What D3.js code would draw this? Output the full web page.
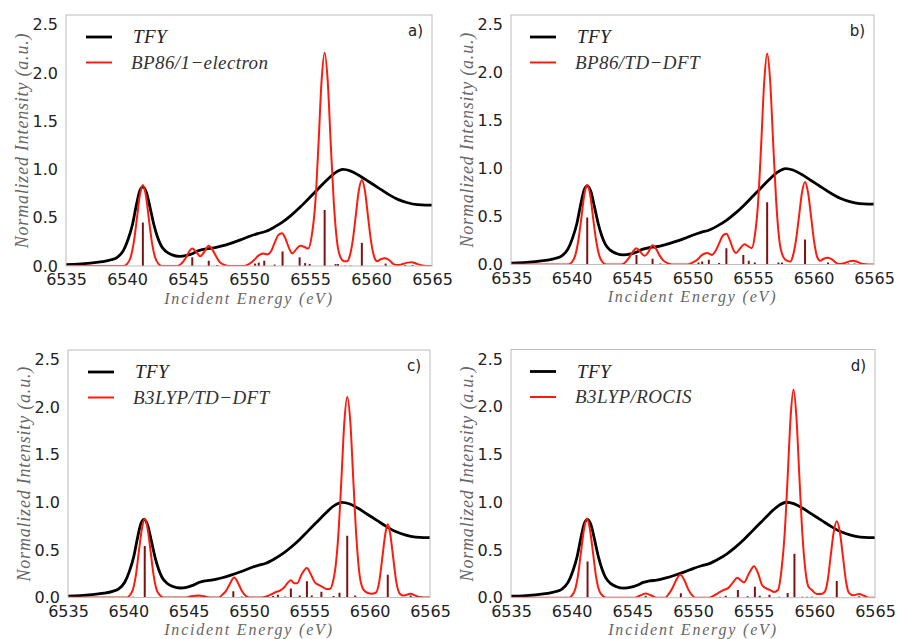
<!DOCTYPE html>
<html><head><meta charset="utf-8">
<script src="https://cdn.jsdelivr.net/npm/d3@7"></script>
<style>body{margin:0;background:#fff}</style>
</head><body><svg id="chart" width="897" height="639"></svg>
<script>
// ---------- data ----------
const energyTicks = [6535, 6540, 6545, 6550, 6555, 6560, 6565];
const intensityTicks = [0.0, 0.5, 1.0, 1.5, 2.0, 2.5];
const panelLabels = ["a)", "b)", "c)", "d)"];
const methodNames = ["BP86/1\u2212electron", "BP86/TD\u2212DFT", "B3LYP/TD\u2212DFT", "B3LYP/ROCIS"];

// experimental TFY (same in all panels) [energy, intensity]
const tfy = [[6535,0.015],[6536,0.02],[6537,0.03],[6538,0.045],[6538.7,0.065],[6539.2,0.09],[6539.7,0.16],[6540.1,0.28],[6540.45,0.43],[6540.75,0.62],[6541.05,0.78],[6541.3,0.82],[6541.6,0.76],[6541.9,0.6],[6542.2,0.43],[6542.5,0.3],[6542.8,0.21],[6543.2,0.15],[6543.7,0.115],[6544.3,0.10],[6544.9,0.11],[6545.4,0.13],[6545.9,0.16],[6546.4,0.175],[6547.0,0.185],[6547.7,0.205],[6548.5,0.235],[6549.3,0.27],[6550.0,0.305],[6550.7,0.335],[6551.4,0.36],[6552.1,0.405],[6552.8,0.46],[6553.5,0.53],[6554.2,0.61],[6554.9,0.7],[6555.6,0.79],[6556.3,0.88],[6557.0,0.96],[6557.7,1.0],[6558.3,0.985],[6559.0,0.94],[6559.8,0.875],[6560.6,0.81],[6561.4,0.745],[6562.2,0.69],[6563.0,0.655],[6563.8,0.635],[6564.5,0.63],[6565,0.63]];

// calculated broadened spectra [energy, intensity]
const calcA = [[6535,0],[6539.7,0],[6540.0,0.02],[6540.3,0.09],[6540.55,0.24],[6540.8,0.48],[6541.05,0.73],[6541.3,0.84],[6541.55,0.73],[6541.8,0.48],[6542.05,0.24],[6542.3,0.09],[6542.6,0.02],[6542.9,0],[6544.1,0],[6544.5,0.03],[6544.8,0.08],[6545.05,0.14],[6545.35,0.18],[6545.65,0.15],[6546.0,0.10],[6546.3,0.14],[6546.7,0.21],[6547.0,0.17],[6547.3,0.10],[6547.6,0.04],[6548.0,0.01],[6548.3,0],[6549.6,0],[6550.0,0.02],[6550.4,0.06],[6550.8,0.11],[6551.15,0.13],[6551.5,0.12],[6551.8,0.15],[6552.1,0.24],[6552.4,0.32],[6552.7,0.34],[6553.0,0.28],[6553.3,0.18],[6553.55,0.13],[6553.85,0.17],[6554.2,0.21],[6554.5,0.2],[6554.85,0.18],[6555.15,0.32],[6555.45,0.68],[6555.7,1.27],[6555.95,1.92],[6556.2,2.21],[6556.45,1.92],[6556.7,1.27],[6556.95,0.66],[6557.2,0.27],[6557.5,0.09],[6557.8,0.05],[6558.05,0.05],[6558.25,0.1],[6558.5,0.26],[6558.75,0.52],[6559.0,0.78],[6559.25,0.89],[6559.5,0.78],[6559.75,0.52],[6560.0,0.26],[6560.25,0.1],[6560.5,0.05],[6560.8,0.07],[6561.15,0.08],[6561.5,0.06],[6561.85,0.02],[6562.2,0.01],[6562.6,0.02],[6563.0,0.035],[6563.35,0.04],[6563.7,0.025],[6564.1,0.008],[6564.5,0],[6565,0]];
const calcB = [[6535,0],[6539.7,0],[6540.0,0.02],[6540.3,0.09],[6540.55,0.24],[6540.8,0.47],[6541.05,0.72],[6541.3,0.83],[6541.55,0.72],[6541.8,0.47],[6542.05,0.24],[6542.3,0.09],[6542.6,0.02],[6542.9,0],[6544.1,0],[6544.5,0.03],[6544.8,0.08],[6545.05,0.13],[6545.37,0.17],[6545.7,0.13],[6546.05,0.09],[6546.35,0.13],[6546.7,0.20],[6547.0,0.16],[6547.3,0.09],[6547.6,0.04],[6548.0,0.01],[6548.3,0],[6549.6,0],[6550.0,0.02],[6550.4,0.05],[6550.8,0.10],[6551.2,0.12],[6551.6,0.10],[6551.9,0.14],[6552.2,0.22],[6552.5,0.30],[6552.8,0.32],[6553.1,0.25],[6553.35,0.16],[6553.6,0.12],[6553.95,0.17],[6554.3,0.21],[6554.6,0.19],[6554.9,0.17],[6555.15,0.3],[6555.43,0.66],[6555.68,1.26],[6555.93,1.91],[6556.17,2.20],[6556.42,1.91],[6556.67,1.26],[6556.92,0.65],[6557.17,0.26],[6557.5,0.08],[6557.8,0.04],[6558.1,0.03],[6558.3,0.09],[6558.55,0.25],[6558.8,0.5],[6559.05,0.75],[6559.3,0.86],[6559.55,0.75],[6559.8,0.5],[6560.05,0.24],[6560.3,0.08],[6560.55,0.04],[6560.85,0.06],[6561.2,0.07],[6561.55,0.05],[6561.9,0.015],[6562.2,0.005],[6562.6,0.015],[6563.0,0.035],[6563.3,0.04],[6563.65,0.025],[6564.1,0.005],[6564.5,0],[6565,0]];
const calcC = [[6535,0],[6539.9,0],[6540.1,0.02],[6540.37,0.08],[6540.62,0.23],[6540.87,0.48],[6541.12,0.72],[6541.36,0.83],[6541.6,0.72],[6541.85,0.48],[6542.1,0.23],[6542.35,0.08],[6542.65,0.02],[6542.95,0],[6544.7,0],[6545.2,0.012],[6545.8,0.02],[6546.3,0.012],[6546.8,0],[6547.5,0],[6547.8,0.03],[6548.1,0.07],[6548.4,0.14],[6548.77,0.21],[6549.1,0.15],[6549.4,0.07],[6549.7,0.02],[6550.0,0],[6551.0,0],[6551.45,0.01],[6551.8,0.03],[6552.2,0.055],[6552.6,0.075],[6552.95,0.11],[6553.25,0.16],[6553.47,0.18],[6553.75,0.15],[6554.0,0.15],[6554.35,0.24],[6554.8,0.31],[6555.1,0.25],[6555.45,0.16],[6555.8,0.13],[6556.1,0.11],[6556.4,0.09],[6556.7,0.09],[6556.95,0.16],[6557.15,0.3],[6557.4,0.65],[6557.65,1.22],[6557.9,1.84],[6558.14,2.11],[6558.4,1.84],[6558.65,1.22],[6558.9,0.63],[6559.15,0.25],[6559.45,0.09],[6559.8,0.05],[6560.15,0.04],[6560.5,0.05],[6560.8,0.17],[6561.05,0.42],[6561.3,0.67],[6561.5,0.77],[6561.7,0.67],[6561.95,0.42],[6562.2,0.17],[6562.5,0.04],[6562.8,0.02],[6563.1,0.03],[6563.4,0.04],[6563.7,0.025],[6564.1,0.005],[6564.5,0],[6565,0]];
const calcD = [[6535,0],[6539.8,0],[6540.0,0.02],[6540.27,0.08],[6540.52,0.23],[6540.77,0.48],[6541.02,0.72],[6541.26,0.83],[6541.5,0.72],[6541.75,0.48],[6542.0,0.23],[6542.25,0.08],[6542.55,0.02],[6542.85,0],[6545.2,0],[6545.6,0.02],[6546.1,0.045],[6546.6,0.02],[6547.0,0],[6547.7,0],[6548.0,0.04],[6548.3,0.1],[6548.6,0.18],[6548.95,0.24],[6549.3,0.18],[6549.6,0.09],[6549.9,0.03],[6550.2,0],[6551.3,0],[6551.7,0.02],[6552.1,0.05],[6552.5,0.08],[6552.9,0.10],[6553.3,0.16],[6553.66,0.21],[6553.95,0.18],[6554.2,0.16],[6554.6,0.25],[6555.04,0.33],[6555.35,0.26],[6555.7,0.13],[6556.0,0.1],[6556.35,0.08],[6556.7,0.06],[6557.0,0.08],[6557.3,0.3],[6557.55,0.66],[6557.8,1.26],[6558.05,1.9],[6558.28,2.18],[6558.52,1.9],[6558.77,1.26],[6559.02,0.66],[6559.27,0.28],[6559.5,0.12],[6559.8,0.08],[6560.2,0.04],[6560.55,0.04],[6560.85,0.06],[6561.1,0.18],[6561.35,0.44],[6561.6,0.69],[6561.85,0.80],[6562.1,0.69],[6562.35,0.44],[6562.6,0.18],[6562.85,0.05],[6563.2,0.025],[6563.7,0.04],[6564.1,0.02],[6564.5,0],[6565,0]];

// transition sticks
const sticksAE = [6541.3,6545.35,6546.7,6547.4,6550.5,6550.8,6551.25,6552.1,6552.75,6554.15,6554.6,6554.97,6556.2,6557.1,6557.3,6557.9,6558.3,6559.25,6561.2,6562.8,6563.4];
const sticksAI = [0.45,0.09,0.055,0.01,0.025,0.035,0.055,0.015,0.15,0.09,0.03,0.02,0.58,0.02,0.02,0.005,0.005,0.24,0.025,0.01,0.01];
const sticksBE = [6541.3,6545.37,6546.7,6547.35,6550.5,6550.8,6551.35,6552.2,6552.8,6554.2,6554.65,6555.15,6556.17,6557.1,6557.4,6559.3,6561.2,6562.9,6563.4];
const sticksBI = [0.49,0.10,0.06,0.01,0.02,0.03,0.05,0.015,0.17,0.10,0.04,0.02,0.65,0.02,0.02,0.26,0.02,0.01,0.01];
const sticksCE = [6540.4,6541.36,6545.7,6548.7,6549.4,6552.0,6552.4,6553.0,6553.47,6554.2,6554.8,6555.2,6556.0,6557.0,6557.5,6558.14,6558.8,6561.5,6563.4];
const sticksCI = [0.008,0.54,0.01,0.066,0.01,0.015,0.03,0.01,0.095,0.02,0.17,0.02,0.06,0.015,0.05,0.65,0.02,0.24,0.02];
const sticksDE = [6541.31,6546.1,6549.0,6549.8,6552.24,6552.7,6553.7,6554.5,6555.1,6555.5,6556.3,6557.1,6557.8,6558.36,6559.0,6559.4,6559.8,6561.85,6563.7];
const sticksDI = [0.38,0.02,0.046,0.008,0.01,0.02,0.08,0.015,0.115,0.02,0.03,0.01,0.05,0.46,0.01,0.01,0.01,0.175,0.015];

// ---------- layout ----------
const panels = [
  {left:66,  right:432, top:15,  bottom:266,   calc:calcA, se:sticksAE, si:sticksAI},
  {left:511, right:874, top:15,  bottom:264.5, calc:calcB, se:sticksBE, si:sticksBI},
  {left:68,  right:430, top:350, bottom:597.5, calc:calcC, se:sticksCE, si:sticksCI},
  {left:511, right:875, top:349.5, bottom:597.7, calc:calcD, se:sticksDE, si:sticksDI}
];

const svg = d3.select("#chart");
const serif = "'Liberation Serif', 'DejaVu Serif', serif";
const sans = "'DejaVu Sans', sans-serif";

panels.forEach((p, k) => {
  const x = d3.scaleLinear().domain([6535, 6565]).range([p.left, p.right]);
  const y = d3.scaleLinear().domain([0, 2.6]).range([p.bottom, p.top]);
  const g = svg.append("g");

  g.append("clipPath").attr("id", "clip" + k).append("rect")
    .attr("x", p.left).attr("y", p.top).attr("width", p.right - p.left).attr("height", p.bottom - p.top);

  // x axis labels
  const xa = d3.axisBottom(x).tickValues(energyTicks).tickSize(0).tickPadding(8).tickFormat(d3.format("d"));
  const gx = g.append("g").attr("transform", `translate(0,${p.bottom})`).call(xa);
  gx.select(".domain").remove();
  gx.selectAll("text").attr("font-family", sans).attr("font-size", 16).attr("fill", "#222");

  const ya = d3.axisLeft(y).tickValues(intensityTicks).tickSize(0).tickPadding(8).tickFormat(d3.format(".1f"));
  const gy = g.append("g").attr("transform", `translate(${p.left},0)`).call(ya);
  gy.select(".domain").remove();
  gy.selectAll("text").attr("font-family", sans).attr("font-size", 16).attr("fill", "#222");

  const plot = g.append("g").attr("clip-path", `url(#clip${k})`);

  // sticks
  plot.selectAll("line.stick").data(p.se.map((e, i) => [e, p.si[i]])).enter().append("line")
    .attr("x1", d => x(d[0])).attr("x2", d => x(d[0]))
    .attr("y1", y(0)).attr("y2", d => y(d[1]))
    .attr("stroke", "#7d1212").attr("stroke-width", 2);

  const line = d3.line().x(d => x(d[0])).y(d => y(d[1])).curve(d3.curveMonotoneX);
  plot.append("path").datum(tfy).attr("d", line).attr("fill", "none")
    .attr("stroke", "#000").attr("stroke-width", 2.8).attr("stroke-linejoin", "round");
  plot.append("path").datum(p.calc).attr("d", line).attr("fill", "none")
    .attr("stroke", "#ff1a0d").attr("stroke-width", 2).attr("stroke-linejoin", "round");

  // frame
  g.append("rect").attr("x", p.left).attr("y", p.top)
    .attr("width", p.right - p.left).attr("height", p.bottom - p.top)
    .attr("fill", "none").attr("stroke", "#bcbcbc").attr("stroke-width", 1);

  // panel label
  g.append("text").attr("x", p.right - 9).attr("y", p.top + 21).attr("text-anchor", "end")
    .attr("font-family", sans).attr("font-size", 15).attr("fill", "#222").text(panelLabels[k]);

  // legend
  const lx = p.left + (k % 2 === 0 ? 20 : 19);
  const ly1 = p.top + 22, ly2 = p.top + 47.5;
  g.append("line").attr("x1", lx).attr("x2", lx + 26).attr("y1", ly1).attr("y2", ly1)
    .attr("stroke", "#000").attr("stroke-width", 2.8);
  g.append("line").attr("x1", lx).attr("x2", lx + 26).attr("y1", ly2).attr("y2", ly2)
    .attr("stroke", "#ff1a0d").attr("stroke-width", 2);
  g.append("text").attr("x", lx + 47).attr("y", ly1 + 6).attr("font-family", serif)
    .attr("font-style", "italic").attr("font-size", 19).attr("letter-spacing", 0.4).attr("fill", "#222").text("TFY");
  g.append("text").attr("x", lx + 45).attr("y", ly2 + 6).attr("font-family", serif)
    .attr("font-style", "italic").attr("font-size", 19).attr("letter-spacing", 0.4).attr("fill", "#333").text(methodNames[k]);

  // axis titles
  g.append("text").attr("x", (p.left + p.right) / 2).attr("y", p.bottom + 37.5)
    .attr("text-anchor", "middle").attr("font-family", serif).attr("font-style", "italic")
    .attr("font-size", 16).attr("fill", "#666").attr("letter-spacing", 1.8).text("Incident Energy  (eV)");
  const yc = (p.top + p.bottom) / 2;
  g.append("text").attr("transform", `translate(${p.left - 38},${yc}) rotate(-90)`)
    .attr("text-anchor", "middle").attr("font-family", serif).attr("font-style", "italic")
    .attr("font-size", 18).attr("fill", "#666").attr("letter-spacing", 0.8).text("Normalized Intensity (a.u.)");
});
</script></body></html>
